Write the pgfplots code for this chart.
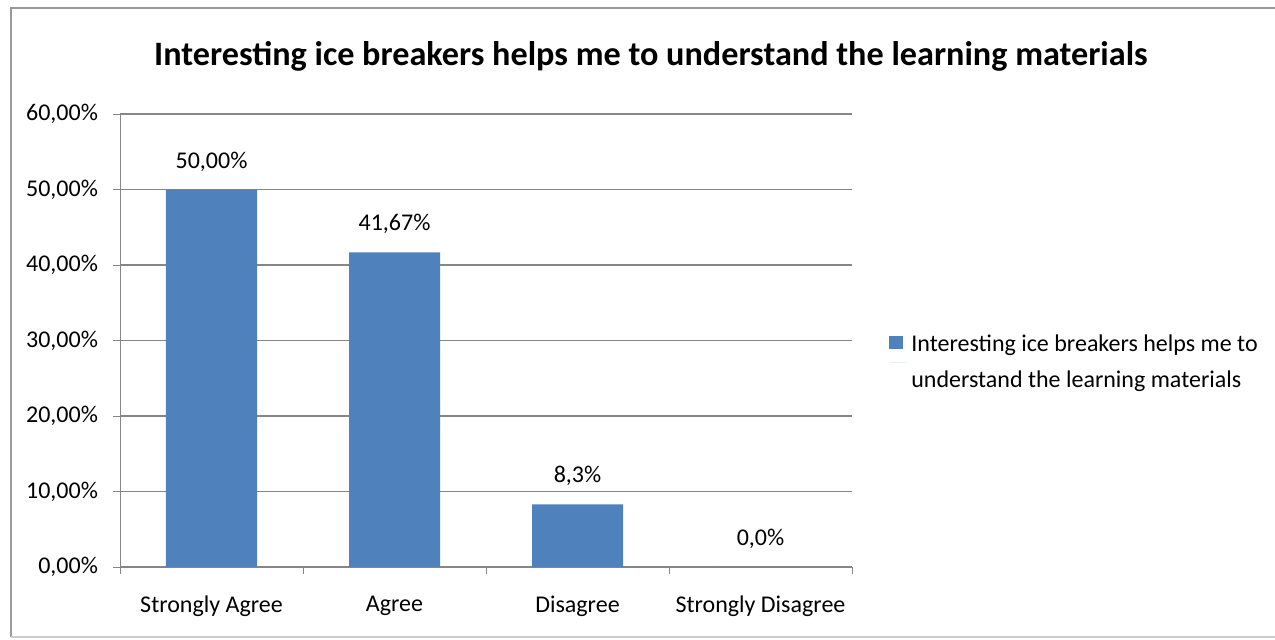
\documentclass[border=0pt]{standalone}
\usepackage{fontspec}
\setmainfont{Carlito}
\usepackage{pgfplots}
\pgfplotsset{compat=1.18}
\definecolor{barblue}{HTML}{4F81BD}
\definecolor{gridgray}{HTML}{868686}
\begin{document}
\begin{tikzpicture}
\useasboundingbox (0,0) rectangle (637.5pt,319.5pt);
\fill[white] (0,0) rectangle (637.5pt,319.5pt);
\draw[gray!80, line width=1pt] (5.5pt,1pt) -- (5.5pt,315.5pt) -- (640pt,315.5pt);
\draw[gray!40, line width=1pt] (5.5pt,1pt) -- (640pt,1pt);
\begin{axis}[
  at={(60pt,36pt)}, anchor=south west,
  scale only axis, width=366pt, height=226.5pt,
  ybar, bar width=45.5pt,
  xmin=-0.5, xmax=3.5, ymin=0, ymax=0.6,
  axis x line*=bottom, axis y line*=left,
  axis line style={gridgray, -},
  xtick={0,1,2,3},
  xticklabels={Strongly Agree, Agree, Disagree, Strongly Disagree},
  minor xtick={-0.5,0.5,1.5,2.5,3.5},
  x tick style={draw=none},
  minor x tick style={draw=gridgray},
  minor tick length=3.5pt,
  ytick={0,0.1,0.2,0.3,0.4,0.5,0.6},
  yticklabels={{0,00\%},{10,00\%},{20,00\%},{30,00\%},{40,00\%},{50,00\%},{60,00\%}},
  y tick style={draw=gridgray},
  major tick length=3.5pt,
  tick align=outside,
  ymajorgrids, grid style={gridgray, line width=0.6pt},
  ticklabel style={font=\fontsize{12}{14}\selectfont, text=black},
  yticklabel style={xshift=-4pt},
  xticklabel style={yshift=-7.5pt},
  point meta=explicit symbolic,
  nodes near coords,
  nodes near coords style={font=\fontsize{12}{14}\selectfont, anchor=south, inner sep=0pt, yshift=9pt},
  legend style={draw=none, fill=none, at={(1.0505,0.523)}, anchor=north west, inner sep=0pt,
    font=\fontsize{12}{18}\selectfont, cells={align=left}},
  legend image code/.code={\fill[barblue] (0pt,6.5pt) rectangle (7pt,13pt); \path (0pt,0pt) -- (9pt,0pt);},
]
\addplot[fill=barblue, draw=none] coordinates {
  (0,0.5) [{50,00\%}]
  (1,0.4167) [{41,67\%}]
  (2,0.083) [{8,3\%}]
  (3,0) [{0,0\%}]
};
\addlegendentry{Interesting ice breakers helps me to\\understand the learning materials}
\end{axis}
\node[font=\fontsize{17.1}{20}\selectfont\bfseries] at (325.5pt,291.5pt) {Interesting ice breakers helps me to understand the learning materials};
\end{tikzpicture}
\end{document}
